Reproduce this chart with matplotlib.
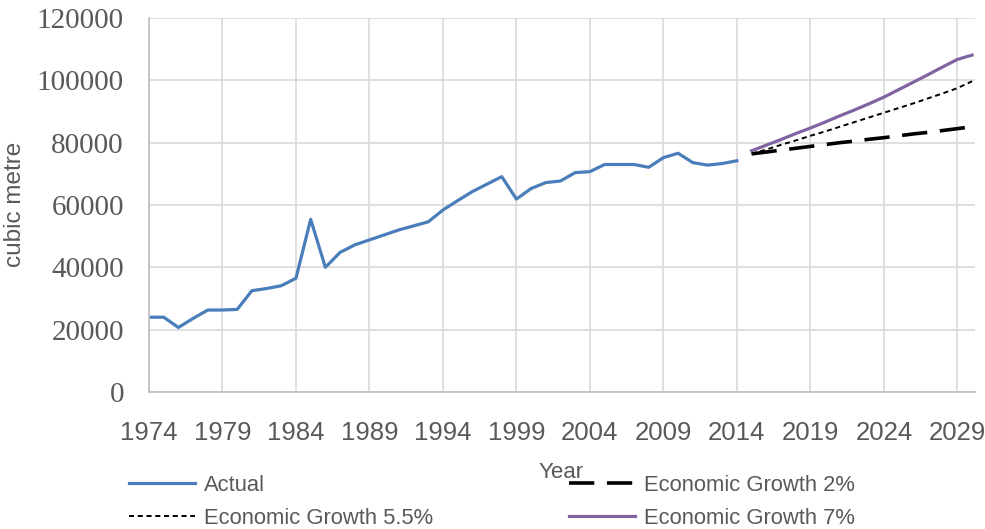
import matplotlib
matplotlib.use("Agg")
import matplotlib.pyplot as plt

years_actual = list(range(1974, 2015))
actual = [24000, 24000, 20700, 23600, 26300, 26300, 26500, 32500, 33200, 34100,
          36500, 55400, 40000, 44800, 47200, 48800, 50400, 52000, 53300, 54600,
          58400, 61400, 64300, 66700, 69100, 61900, 65300, 67200, 67700, 70400,
          70700, 73000, 73000, 73000, 72100, 75200, 76600, 73600, 72800, 73300,
          74200]

years_fc = list(range(2015, 2031))
growth_2 = [76400, 77000, 77600, 78200, 78800, 79400, 80000, 80500, 81100, 81600,
            82200, 82800, 83300, 83900, 84500, 85100]
growth_55 = [76400, 77800, 79300, 80700, 82200, 83600, 85100, 86600, 88100, 89600,
             91100, 92600, 94200, 95800, 97500, 99700]
growth_7 = [77400, 79200, 81000, 82900, 84700, 86600, 88600, 90500, 92500, 94600,
            97000, 99400, 101800, 104300, 106700, 108100]

xticks = list(range(1974, 2030, 5))
yticks = list(range(0, 120001, 20000))

sans = 'Liberation Sans'
serif = 'Liberation Serif'
gray = '#595959'

fig = plt.figure(figsize=(9.85, 5.29), dpi=100)
ax = fig.add_axes([149/985, 1-392/529, (975-149)/985, (392-18)/529])

l_act, = ax.plot(years_actual, actual, color='#4A7EBB', lw=2.3, label='Actual')
l_2, = ax.plot(years_fc, growth_2, color='black', lw=2.6, dashes=(7, 3.5), label='Economic Growth 2%')
l_55, = ax.plot(years_fc, growth_55, color='black', lw=1.4, dashes=(2.6, 1.9), label='Economic Growth 5.5%')
l_7, = ax.plot(years_fc, growth_7, color='#8064A2', lw=2.3, label='Economic Growth 7%')

ax.set_xlim(1974, 2030.2)
ax.set_ylim(0, 120000)
ax.set_xticks(xticks)
ax.set_yticks(yticks)
ax.grid(True, color='#D9D9D9', lw=1.2)
ax.set_axisbelow(True)
for s in ['top', 'right']:
    ax.spines[s].set_visible(False)
for s in ['left', 'bottom']:
    ax.spines[s].set_color('#BFBFBF')
    ax.spines[s].set_linewidth(1.2)
ax.tick_params(length=0)
ax.tick_params(axis='x', pad=21)
ax.tick_params(axis='y', pad=18)
for t in ax.get_xticklabels():
    t.set_fontfamily(sans)
    t.set_fontsize(18.5)
    t.set_color(gray)
for t in ax.get_yticklabels():
    t.set_fontfamily(serif)
    t.set_fontsize(21)
    t.set_color(gray)

fig.text(15/985, 1-204/529, 'cubic metre', rotation=90, ha='center', va='center',
         fontsize=17.5, color=gray, family=sans)
fig.text(561/985, 1-473/529, 'Year', ha='center', va='center', fontsize=16,
         color=gray, family=sans)

leg = fig.legend(handles=[l_act, l_55, l_2, l_7],
                 labels=['Actual', 'Economic Growth 5.5%', 'Economic Growth 2%', 'Economic Growth 7%'],
                 ncol=2, loc='upper left', bbox_to_anchor=(129/985, 1-475/529),
                 frameon=False, borderpad=0, borderaxespad=0,
                 handlelength=3.0, handletextpad=0.42,
                 columnspacing=6.2, labelspacing=0.55,
                 prop={'family': sans, 'size': 15.8})
for t in leg.get_texts():
    t.set_color(gray)

fig.savefig('out.png', dpi=100)
